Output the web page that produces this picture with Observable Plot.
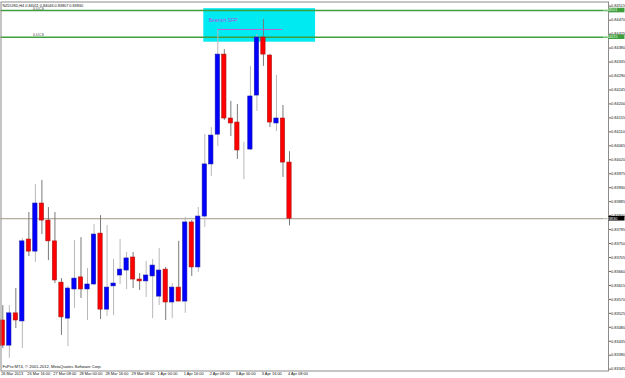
<!DOCTYPE html>
<html><head><meta charset="utf-8">
<script src="https://cdn.jsdelivr.net/npm/d3@7"></script>
<script src="https://cdn.jsdelivr.net/npm/@observablehq/plot@0.6"></script>
<style>body{margin:0;background:#fff;overflow:hidden}</style>
</head><body><div id="chart"></div>
<script>
// ---- data (NZDUSD H4) ----
const header = "NZDUSD,H4 0.84011 0.84046 0.83807 0.83830";
const footer = "FxPro MT4, © 2001-2012, MetaQuotes Software Corp.";
const opens  = [0.83502,0.83421,0.83525,0.83499,0.83763,0.83724,0.83879,0.83824,0.83757,0.83624,0.83508,0.83602,0.83641,0.83602,0.83618,0.83782,0.83537,0.83612,0.83647,0.83663,0.83705,0.83634,0.83628,0.83644,0.83579,0.83666,0.83560,0.83608,0.83563,0.83818,0.83673,0.83837,0.84005,0.84101,0.84359,0.84153,0.84140,0.84050,0.84053,0.84227,0.84414,0.84356,0.84137,0.84153,0.84011];
const highs  = [0.83550,0.83550,0.83605,0.83766,0.83850,0.83940,0.83953,0.83866,0.83850,0.83637,0.83612,0.83760,0.83769,0.83670,0.83811,0.83840,0.83808,0.83699,0.83763,0.83721,0.83721,0.83653,0.83692,0.83699,0.83734,0.83673,0.83621,0.83757,0.83834,0.83824,0.83866,0.84101,0.84124,0.84440,0.84375,0.84208,0.84198,0.84076,0.84321,0.84424,0.84472,0.84359,0.84292,0.84195,0.84046];
const lows   = [0.83412,0.83380,0.83476,0.83412,0.83708,0.83689,0.83779,0.83695,0.83621,0.83454,0.83418,0.83541,0.83573,0.83502,0.83615,0.83505,0.83515,0.83518,0.83618,0.83602,0.83605,0.83599,0.83576,0.83508,0.83550,0.83502,0.83508,0.83563,0.83525,0.83644,0.83657,0.83802,0.83966,0.84063,0.84147,0.84095,0.84021,0.83956,0.84050,0.84176,0.84321,0.84124,0.84111,0.83963,0.83807];
const closes = [0.83421,0.83525,0.83502,0.83757,0.83724,0.83879,0.83824,0.83757,0.83631,0.83512,0.83605,0.83637,0.83602,0.83618,0.83779,0.83537,0.83608,0.83621,0.83666,0.83702,0.83634,0.83628,0.83647,0.83679,0.83663,0.83560,0.83608,0.83563,0.83818,0.83673,0.83837,0.84005,0.84098,0.84359,0.84153,0.84137,0.84050,0.84050,0.84224,0.84414,0.84359,0.84140,0.84153,0.84011,0.83830];
const timeLabels = ["26 Mar 2013","26 Mar 16:00","27 Mar 08:00","28 Mar 00:00","28 Mar 16:00","29 Mar 08:00","1 Apr 00:00","1 Apr 16:00","2 Apr 08:00","3 Apr 00:00","3 Apr 16:00","4 Apr 08:00"];
const timeLabelBars = [0,4,8,12,16,20,24,28,32,36,40,44];
const priceTicks = [0.84515,0.84470,0.84425,0.84380,0.84335,0.84290,0.84245,0.84200,0.84155,0.84110,0.84065,0.84020,0.83975,0.83930,0.83885,0.83840,0.83795,0.83750,0.83705,0.83660,0.83615,0.83570,0.83525,0.83480,0.83435,0.83390,0.83345];
const levelPrices = [0.84501, 0.84415];
const levelNames = ["0.UCS", "0.UCS"];
const bidPrice = 0.83830;
const boxBars = [30.85, 48];
const boxPrices = [0.84399, 0.84507];
const sfpBars = [33, 43];
const sfpPrice = 0.84440;
const sfpLabel = "Bearish SFP";
const sfpLabelBar = 31.6;
const sfpLabelPrice = 0.84469;

// ---- build ----
const bars = opens.map((o, i) => ({i, o, h: highs[i], l: lows[i], c: closes[i]}));
const levels = levelPrices.map((p, k) => ({p, name: levelNames[k]}));
const BLUE = "#0000ff", RED = "#ff0000";
const fnt = "'Liberation Sans', Arial, sans-serif";
const FS = 3.9;
const fmt = d3.format(".5f");

const chart = Plot.plot({
  width: 625, height: 378,
  marginLeft: 0.5, marginRight: 17, marginTop: 1.5, marginBottom: 7.5,
  style: {fontFamily: fnt, fontSize: FS + "px", background: "#ffffff", color: "#000", overflow: "visible"},
  x: {domain: [0, 44], range: [2.3, 289], axis: null},
  y: {domain: [0.83345, 0.84515], range: [368.7, 5.7], axis: null},
  marks: [
    Plot.rect([0], {x1: () => boxBars[0], x2: () => boxBars[1], y1: () => boxPrices[0], y2: () => boxPrices[1], fill: "#00eaf2"}),
    Plot.ruleY(levels, {y: "p", stroke: "#3f9f3f", strokeWidth: 1.4}),
    Plot.text(levels, {y: "p", text: "name", frameAnchor: "left", dx: 32, dy: -2.1, textAnchor: "start", fill: "#444", fontSize: 3.7}),
    Plot.ruleY([bidPrice], {stroke: "#a09886", strokeWidth: 1}),
    Plot.ruleX(bars, {x: "i", y1: "l", y2: "h", stroke: d => d.c >= d.o ? "#b8b8b8" : "#7a7a7a", strokeWidth: 1}),
    Plot.rect(bars, {
      x1: d => d.i - 0.33, x2: d => d.i + 0.33, y1: "o", y2: "c",
      fill: d => d.c > d.o ? BLUE : d.c < d.o ? RED : "#000",
      stroke: d => d.c > d.o ? "#1a1aa8" : d.c < d.o ? "#a81a1a" : "#000",
      strokeWidth: 0.6
    }),
    Plot.ruleY([sfpPrice], {x1: () => sfpBars[0], x2: () => sfpBars[1], stroke: "#c060d8", strokeWidth: 1}),
    Plot.text([sfpLabel], {x: () => sfpLabelBar, y: () => sfpLabelPrice, text: d => d, textAnchor: "start", fill: "#b050e8", fontSize: 5.2}),
    Plot.frame({stroke: "#8c8c8c", strokeWidth: 1}),
    Plot.axisY({anchor: "right", ticks: priceTicks, tickSize: 2, tickPadding: 0.6, tickFormat: fmt, fontSize: FS, stroke: "#666", fill: "#111"}),
    Plot.text(timeLabels, {x: (d, k) => timeLabelBars[k], text: d => d, frameAnchor: "bottom", dy: 4.2, dx: -1.6, textAnchor: "start", fill: "#111", fontSize: FS}),
    Plot.text([header], {frameAnchor: "top-left", dx: 1.5, dy: 2.3, text: d => d, textAnchor: "start", fill: "#111", fontSize: 3.8}),
    Plot.text([footer], {frameAnchor: "bottom-left", dx: 1.5, dy: -3.4, text: d => d, textAnchor: "start", fill: "#111", fontSize: 4.1})
  ]
});

// highlighted price labels on the right axis, positioned through the plot's y scale
const ys = chart.scale("y");
const svg = d3.select(chart);
const tags = [
  {p: levelPrices[0], bg: "#3f9f3f", fg: "#e8ffe8"},
  {p: levelPrices[1], bg: "#3f9f3f", fg: "#e8ffe8"},
  {p: bidPrice, bg: "#000000", fg: "#ffffff"}
];
const g = svg.append("g").attr("font-family", fnt).attr("font-size", FS);
for (const t of tags) {
  const y = ys.apply(t.p);
  g.append("rect").attr("x", 608.5).attr("y", y - 2.3).attr("width", 16).attr("height", 4.6).attr("fill", t.bg);
  g.append("text").attr("x", 610.3).attr("y", y).attr("dy", "0.35em").attr("fill", t.fg).text(fmt(t.p));
}
document.getElementById("chart").appendChild(chart);
</script>
</body></html>
